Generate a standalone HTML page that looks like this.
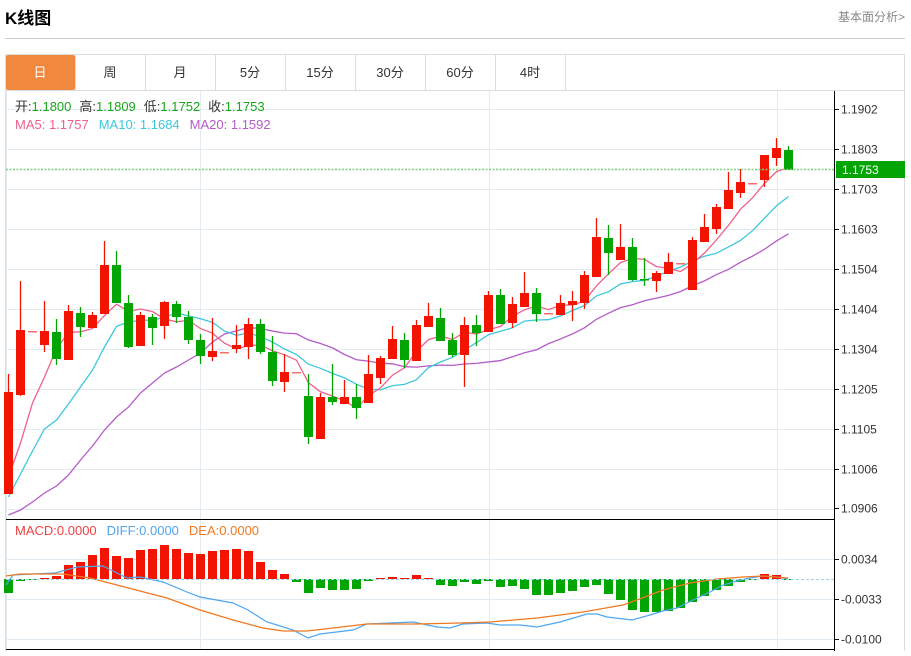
<!DOCTYPE html>
<html><head><meta charset="utf-8"><style>
body{margin:0;background:#fff;width:911px;height:651px;overflow:hidden;font-family:"Liberation Sans","Noto Sans CJK SC",sans-serif}
</style></head><body>
<svg id="s" width="911" height="651" xmlns="http://www.w3.org/2000/svg" font-family="Liberation Sans, Noto Sans CJK SC, sans-serif">
<text x="5" y="24" font-size="17" font-weight="bold" fill="#000">K线图</text>
<text x="905" y="21" font-size="12" fill="#888" text-anchor="end">基本面分析&gt;</text>
<line x1="5" y1="38.5" x2="905" y2="38.5" stroke="#ccc"/>
<rect x="5.5" y="54.5" width="899" height="600" fill="none" stroke="#ddd"/>
<line x1="5" y1="90.5" x2="905" y2="90.5" stroke="#ddd"/>
<rect x="6" y="55" width="69" height="35" fill="#f0883e" rx="2"/>
<g font-size="13" fill="#333" text-anchor="middle">
<text x="40" y="77" fill="#fff">日</text><text x="110" y="77">周</text><text x="180" y="77">月</text><text x="250" y="77">5分</text><text x="320" y="77">15分</text><text x="390" y="77">30分</text><text x="460" y="77">60分</text><text x="530" y="77">4时</text>
</g>
<g stroke="#ddd"><line x1="75.5" y1="55" x2="75.5" y2="90"/><line x1="145.5" y1="55" x2="145.5" y2="90"/><line x1="215.5" y1="55" x2="215.5" y2="90"/><line x1="285.5" y1="55" x2="285.5" y2="90"/><line x1="355.5" y1="55" x2="355.5" y2="90"/><line x1="425.5" y1="55" x2="425.5" y2="90"/><line x1="495.5" y1="55" x2="495.5" y2="90"/><line x1="565.5" y1="55" x2="565.5" y2="90"/></g>
<g id="grid"></g>
<g id="ma"></g>
<g id="c"></g>
<line x1="6" y1="169.5" x2="834" y2="169.5" stroke="#7fd17f" stroke-dasharray="2,1.5" stroke-width="1.5"/>
<g font-size="13">
<text x="15" y="111"><tspan fill="#333">开:</tspan><tspan fill="#17a817">1.1800</tspan><tspan fill="#333" dx="8">高:</tspan><tspan fill="#17a817">1.1809</tspan><tspan fill="#333" dx="8">低:</tspan><tspan fill="#17a817">1.1752</tspan><tspan fill="#333" dx="8">收:</tspan><tspan fill="#17a817">1.1753</tspan></text>
<text x="15" y="129"><tspan fill="#f0608a">MA5: 1.1757</tspan><tspan fill="#3cc8dc" dx="10">MA10: 1.1684</tspan><tspan fill="#b45cc8" dx="10">MA20: 1.1592</tspan></text>
<text x="15" y="535"><tspan fill="#f04040">MACD:0.0000</tspan><tspan fill="#4ea6f0" dx="10">DIFF:0.0000</tspan><tspan fill="#f07820" dx="10">DEA:0.0000</tspan></text>
</g>
<line x1="6" y1="519.5" x2="834" y2="519.5" stroke="#000"/>
<line x1="6" y1="649.5" x2="834" y2="649.5" stroke="#000"/>
<line x1="834.5" y1="91" x2="834.5" y2="651" stroke="#000"/>
<line x1="6" y1="579.5" x2="834" y2="579.5" stroke="#9cd4ee" stroke-dasharray="3,2"/>
<g id="axis" font-size="12" fill="#333"></g>
<rect x="836" y="161" width="69" height="17" fill="#03a503"/>
<text x="842" y="174" font-size="12" fill="#fff">1.1753</text>
</svg>
<script>
var NS="http://www.w3.org/2000/svg";
function el(p,t,a){var e=document.createElementNS(NS,t);for(var k in a)e.setAttribute(k,a[k]);document.getElementById(p).appendChild(e);return e;}
// grid
for(var y=109;y<=509;y+=40) el("grid","line",{x1:6,x2:834,y1:y+.5,y2:y+.5,stroke:"#e3ebf2"});
[559,599,639].forEach(function(y){el("grid","line",{x1:6,x2:834,y1:y+.5,y2:y+.5,stroke:"#e3ebf2"});});
[200,489,777].forEach(function(x){el("grid","line",{x1:x+.5,x2:x+.5,y1:91,y2:649,stroke:"#e3ebf2"});});
el("grid","line",{x1:6.5,x2:6.5,y1:91,y2:649,stroke:"#e3ebf2"});
// axis
var lab=[["1.1902",109],["1.1803",149],["1.1703",189],["1.1603",229],["1.1504",269],["1.1404",309],["1.1304",349],["1.1205",389],["1.1105",429],["1.1006",469],["1.0906",508],["0.0034",559],["-0.0033",599],["-0.0100",639]];
lab.forEach(function(l){el("axis","line",{x1:834,x2:839,y1:l[1]+.5,y2:l[1]+.5,stroke:"#000"});var t=el("axis","text",{x:841,y:l[1]+4.5});t.textContent=l[0];});
// candles: open, close, high, low (pixel y)
var C=[[494,392,374,494],[395,330,281,396],[331,331,331,331],[345,331,301,352],[332,359,319,365],[360,311,305,360],[313,327,307,337],[328,315,312,328],[314,265,241,314],[265,303,251,303],
[303,347,295,348],[346,315,312,346],[317,328,314,345],[326,302,301,339],[304,317,301,323],[317,340,311,344],[340,356,334,364],[357,351,318,361],[352,352,352,352],[349,345,325,353],
[347,324,318,359],[324,352,319,354],[352,381,336,386],[382,372,354,392],[372,372,372,372],[396,437,374,444],[439,397,393,439],[397,402,364,405],[404,397,380,404],[397,408,384,419],
[403,374,355,403],[378,358,356,384],[359,339,326,359],[340,360,333,368],[361,325,320,361],[327,316,303,327],[318,341,308,341],[340,355,333,357],[355,325,317,387],[325,333,315,346],
[332,295,291,332],[295,324,289,324],[323,304,297,328],[307,293,272,307],[293,314,288,322],[313,313,313,313],[315,303,295,315],[305,301,291,321],[303,275,271,309],[277,237,218,277],
[238,253,225,275],[260,247,224,260],[247,280,238,281],[279,280,258,286],[281,273,271,292],[274,262,253,274],[263,263,263,263],[290,240,237,290],[242,227,214,242],[229,207,204,234],
[209,190,172,209],[193,182,169,198],[183,183,183,183],[180,155,155,187],[158,148,138,166],[150,170,146,170]];
var R="#f21300",G="#03a503";
C.forEach(function(c,i){var x=8.5+12*i;var up=c[1]<c[0],col=c[0]==c[1]?"#f07070":(up?R:G);
 el("c","line",{x1:x,x2:x,y1:c[2],y2:c[3],stroke:col,"stroke-width":1.3});
 var t=Math.min(c[0],c[1]),b=Math.max(c[0],c[1]);if(b-t<1.5){b=t+1.5;}
 el("c","rect",{x:x-4.5,y:t,width:9,height:b-t,fill:col});});
function pts(a){return a.map(function(v,i){return (8.5+12*i)+","+v;}).join(" ");}
var cl=C.map(function(c){return c[1];});
function ma(n,pre){var o=[];for(var i=0;i<cl.length;i++){if(i<n-1&&pre[i]!==undefined){o.push(pre[i]);continue;}var s=0;for(var j=i-n+1;j<=i;j++)s+=cl[j];o.push(s/n);}return o;}
var m5=ma(5,[477,443,403,377]);
var m10=ma(10,[497,474,451,429,420,404,387,370,347]);
var m20=ma(20,[515,510,502,493,486,475,460,446,430,417,407,393,383,373,367,360,353,342,334]);
el("ma","polyline",{points:pts(m20),fill:"none",stroke:"#b45cc8","stroke-width":1.3});
el("ma","polyline",{points:pts(m10),fill:"none",stroke:"#3cc8dc","stroke-width":1.3});
el("ma","polyline",{points:pts(m5),fill:"none",stroke:"#f0608a","stroke-width":1.3});
// MACD bars
var M=[593,581,580,578,576,565,562,555,548,556,558,550,549,545,549,553,554,551,550,549,551,562,570,574,582,593,588,590,590,589,581,578,577,578,575,578,585,586,582,584,581,587,586,589,595,595,593,591,587,585,594,600,610,612,612,611,608,602,596,590,586,582,580,574,575,579];
M.forEach(function(v,i){var x=8.5+12*i;var t=Math.min(v,579),h=Math.abs(v-579);if(h<1)h=1;
 el("c","rect",{x:x-4.5,y:t,width:9,height:h,fill:v<579?R:G});});
var D=[[6,585],[13,575],[33,574],[55,573],[77,567],[103,566],[115,572],[127,578],[140,577],[163,582],[187,592],[200,597],[233,603],[248,610],[267,622],[277,625],[293,630],[308,638],[320,634],[353,630],[367,624],[390,623],[413,622],[437,627],[450,628],[463,624],[487,623],[500,625],[520,625],[537,627],[560,622],[587,614],[597,614],[607,617],[632,620],[650,615],[663,611],[677,608],[697,598],[710,592],[723,585],[737,581],[750,578],[763,576],[777,577],[788,579]];
var E=[[6,576],[20,574],[63,574],[90,578],[117,585],[140,591],[167,598],[200,610],[233,620],[263,628],[283,631],[307,631],[333,628],[367,624],[417,624],[460,623],[490,622],[537,618],[583,612],[623,605],[637,600],[663,590],[690,583],[717,579],[743,577],[763,576],[788,578]];
function p2(a){return a.map(function(p){return p.join(",");}).join(" ");}
el("c","polyline",{points:p2(D),fill:"none",stroke:"#4ea6f0","stroke-width":1.2});
el("c","polyline",{points:p2(E),fill:"none",stroke:"#f07820","stroke-width":1.3});
</script>
</body></html>
